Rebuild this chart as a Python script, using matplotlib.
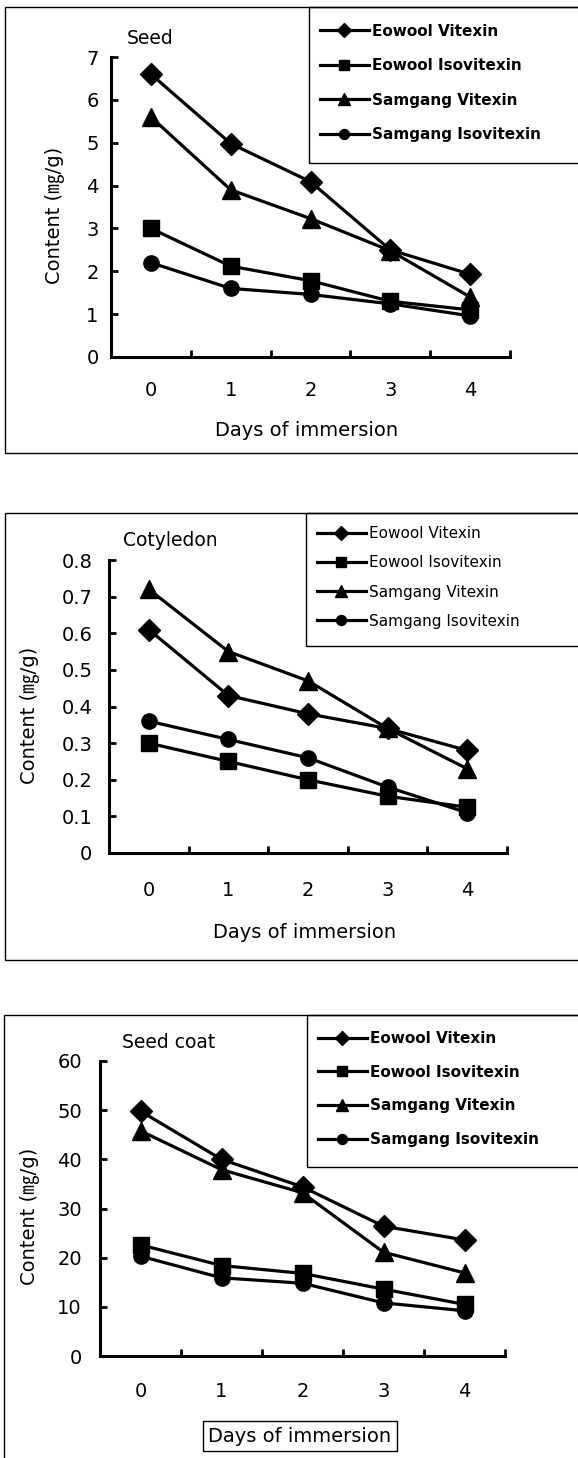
import matplotlib
matplotlib.use("Agg")
import matplotlib.pyplot as plt
from matplotlib.patches import Rectangle
from matplotlib.ticker import FixedLocator

plt.rcParams['font.family'] = ['DejaVu Sans', 'Noto Sans CJK KR']

W, H = 578, 1458

days = [0, 1, 2, 3, 4]
day_labels = ['0', '1', '2', '3', '4']
series_names = ['Eowool Vitexin', 'Eowool Isovitexin', 'Samgang Vitexin', 'Samgang Isovitexin']
markers = ['D', 's', '^', 'o']
msizes = [11.5, 12, 13, 11]

# Seed
seed_eowool_vit = [6.6, 4.98, 4.09, 2.5, 1.93]
seed_eowool_iso = [3.0, 2.12, 1.78, 1.3, 1.1]
seed_samgang_vit = [5.6, 3.9, 3.23, 2.48, 1.4]
seed_samgang_iso = [2.2, 1.6, 1.46, 1.24, 0.96]
seed_yticks = [0, 1, 2, 3, 4, 5, 6, 7]

# Cotyledon
coty_eowool_vit = [0.61, 0.43, 0.38, 0.34, 0.28]
coty_eowool_iso = [0.30, 0.25, 0.20, 0.155, 0.125]
coty_samgang_vit = [0.72, 0.55, 0.47, 0.34, 0.23]
coty_samgang_iso = [0.36, 0.31, 0.26, 0.18, 0.11]
coty_yticks = [0, 0.1, 0.2, 0.3, 0.4, 0.5, 0.6, 0.7, 0.8]
coty_ylabels = ['0', '0.1', '0.2', '0.3', '0.4', '0.5', '0.6', '0.7', '0.8']

# Seed coat
coat_eowool_vit = [49.8, 40.0, 34.4, 26.4, 23.6]
coat_eowool_iso = [22.6, 18.4, 16.8, 13.6, 10.5]
coat_samgang_vit = [45.8, 37.9, 33.2, 21.1, 16.9]
coat_samgang_iso = [20.3, 15.9, 14.8, 10.8, 9.2]
coat_yticks = [0, 10, 20, 30, 40, 50, 60]

fig = plt.figure(figsize=(W / 100, H / 100), dpi=100)


def fx(x):
    return x / W


def fy(y):
    return 1 - y / H


def panel(left, right, top, bottom, ymax, yticks, ylabels, data, title, title_xy,
          box, legend_box, legend_mid, legend_spacing, ylabel_xy, xlabel_xy,
          ypad, xpad, legend_bold, xlabel_boxed=False):
    # outer frame
    fig.patches.append(Rectangle((fx(box[0]), fy(box[3])), fx(box[2] - box[0]),
                                 (box[3] - box[1]) / H, transform=fig.transFigure,
                                 fill=False, ec='black', lw=1.0))
    # legend frame
    fig.patches.append(Rectangle((fx(legend_box[0]), fy(legend_box[3])),
                                 fx(legend_box[2] - legend_box[0]),
                                 (legend_box[3] - legend_box[1]) / H,
                                 transform=fig.transFigure, fill=False, ec='black', lw=1.0))

    ax = fig.add_axes([fx(left), fy(bottom), fx(right - left), (bottom - top) / H])
    for vals, name, m, ms in zip(data, series_names, markers, msizes):
        ax.plot(days, vals, color='black', lw=2.3, marker=m, ms=ms,
                mfc='black', mec='black', label=name, clip_on=False)
    ax.set_xlim(-0.5, 4.5)
    ax.set_ylim(0, ymax)
    for s in ['top', 'right']:
        ax.spines[s].set_visible(False)
    for s in ['left', 'bottom']:
        ax.spines[s].set_linewidth(2.2)
    ax.set_xticks(days)
    ax.set_xticklabels(day_labels)
    ax.xaxis.set_minor_locator(FixedLocator([0.5, 1.5, 2.5, 3.5, 4.5]))
    ax.tick_params(axis='x', which='major', length=0, pad=xpad, labelsize=14)
    ax.tick_params(axis='x', which='minor', direction='in', length=5, width=2)
    ax.set_yticks(yticks)
    ax.set_yticklabels(ylabels)
    ax.tick_params(axis='y', direction='in', length=5, width=2, pad=ypad, labelsize=14)

    fig.text(fx(title_xy[0]), fy(title_xy[1]), title, fontsize=13.5, ha='left', va='center')
    fig.text(fx(ylabel_xy[0]), fy(ylabel_xy[1]), 'Content (㎎/g)', fontsize=14,
             rotation=90, ha='center', va='center')
    bbox = None
    if xlabel_boxed:
        bbox = dict(boxstyle='square,pad=0.3', fc='white', ec='black', lw=1.0)
    fig.text(fx(xlabel_xy[0]), fy(xlabel_xy[1]), 'Days of immersion', fontsize=14,
             ha='center', va='center', bbox=bbox)

    h, l = ax.get_legend_handles_labels()
    fs = 11
    lab_sp = (legend_spacing - fs * 1.39 * 1.2) / (fs * 1.39)
    ax.legend(h, l, loc='center left', bbox_to_anchor=(fx(legend_box[0] + 3), fy(legend_mid)),
              bbox_transform=fig.transFigure, frameon=False, borderpad=0,
              handlelength=3.2, handletextpad=0.2, labelspacing=lab_sp,
              markerscale=0.65, prop={'size': fs, 'weight': 'bold' if legend_bold else 'normal'})
    return ax


panel(111, 510, 57, 357, 7, seed_yticks, [str(v) for v in seed_yticks],
      [seed_eowool_vit, seed_eowool_iso, seed_samgang_vit, seed_samgang_iso],
      'Seed', (127, 38), (5, 7, 590, 453), (309, 7, 590, 163), 83, 38,
      (55, 215), (307, 430), 9, 17, True)

panel(109, 507, 560, 853, 0.8, coty_yticks, coty_ylabels,
      [coty_eowool_vit, coty_eowool_iso, coty_samgang_vit, coty_samgang_iso],
      'Cotyledon', (123, 540), (5, 513, 590, 960), (306, 513, 590, 646), 577.5, 32.5,
      (30, 715), (305, 933), 12, 20, False)

panel(100, 505, 1061, 1356, 60, coat_yticks, [str(v) for v in coat_yticks],
      [coat_eowool_vit, coat_eowool_iso, coat_samgang_vit, coat_samgang_iso],
      'Seed coat', (122, 1043), (4, 1015, 590, 1470), (307, 1015, 590, 1167), 1089, 37,
      (30, 1216), (300, 1436), 13, 19, True, xlabel_boxed=True)

fig.savefig('out.png', dpi=100)
